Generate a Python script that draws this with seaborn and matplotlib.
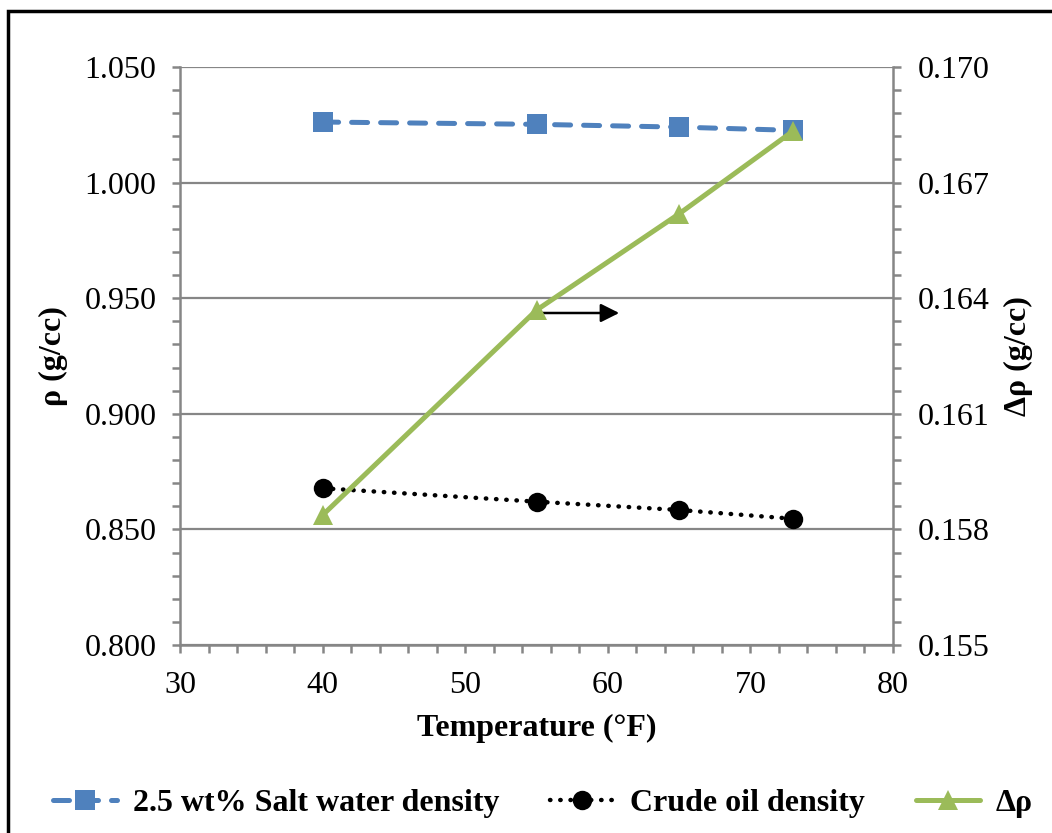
import numpy as np
import pandas as pd
import matplotlib
matplotlib.use("Agg")
import matplotlib.pyplot as plt
from matplotlib.patches import Rectangle
from matplotlib.ticker import MultipleLocator, FormatStrFormatter
import seaborn as sns

# data
temperature = [40, 55, 65, 73]
salt_water_density = [1.0262, 1.0252, 1.0240, 1.0226]
crude_oil_density = [0.8678, 0.8620, 0.8584, 0.8546]
delta_rho = [0.15837, 0.16369, 0.16619, 0.16834]

sns.set_theme(style="white")
plt.rcParams['font.family'] = ['Liberation Serif', 'DejaVu Serif']
plt.rcParams['text.color'] = 'black'
plt.rcParams['axes.labelcolor'] = 'black'

BLUE = "#4F81BD"
GREEN = "#9BBB59"
GREY = "#868686"
FS = 23

fig = plt.figure(figsize=(10.52, 8.33), dpi=100)
ax = fig.add_axes([180 / 1052, 1 - 645 / 833, (893 - 180) / 1052, (645 - 67) / 833])
ax2 = ax.twinx()

sns.lineplot(x=temperature, y=salt_water_density, ax=ax, color=BLUE,
             linestyle=(0, (3.2, 2.6)), linewidth=3.6, marker="s", markersize=14,
             markeredgewidth=0, dash_capstyle="round",
             label="2.5 wt% Salt water density")
sns.lineplot(x=temperature, y=crude_oil_density, ax=ax, color="black",
             linestyle=(0, (0.1, 2.2)), linewidth=3.2, marker="o", markersize=14,
             markeredgewidth=0, dash_capstyle="round",
             label="Crude oil density")
sns.lineplot(x=temperature, y=delta_rho, ax=ax2, color=GREEN,
             linewidth=3.6, marker="^", markersize=15, markeredgewidth=0,
             label="Δρ")

# axes ranges and ticks
ax.set_xlim(30, 80)
ax.set_ylim(0.800, 1.050)
ax.xaxis.set_major_locator(MultipleLocator(10))
ax.xaxis.set_minor_locator(MultipleLocator(2))
ax.yaxis.set_major_locator(MultipleLocator(0.05))
ax.yaxis.set_minor_locator(MultipleLocator(0.01))
ax.yaxis.set_major_formatter(FormatStrFormatter("%.3f"))
ax2.set_yticks(np.linspace(0.155, 0.170, 6))
ax2.set_yticks(np.linspace(0.155, 0.170, 26), minor=True)
ax2.yaxis.set_major_formatter(FormatStrFormatter("%.3f"))
ax2.set_ylim(0.155, 0.170)

ax.grid(axis="y", which="major", color=GREY, linewidth=1.6)
ax.grid(axis="x", visible=False)
ax2.grid(False)

for a in (ax, ax2):
    for side, sp in a.spines.items():
        sp.set_color(GREY)
        sp.set_linewidth(1.8)
    a.spines["top"].set_visible(False)
ax2.spines["left"].set_visible(False)
ax2.spines["bottom"].set_visible(False)
ax.spines["right"].set_visible(False)

ax.tick_params(axis="both", which="major", direction="out", length=6, width=1.8,
               color=GREY, labelsize=FS, labelcolor="black")
ax.tick_params(axis="both", which="minor", direction="out", length=6, width=1.8,
               color=GREY)
ax.tick_params(axis="y", which="both", left=True, pad=11)
ax.tick_params(axis="x", which="both", bottom=True, pad=13)
ax2.tick_params(axis="y", which="major", direction="out", length=6, width=1.8,
                color=GREY, labelsize=FS, labelcolor="black", right=True, pad=12)
ax2.tick_params(axis="y", which="minor", direction="out", length=6, width=1.8,
                color=GREY, right=True)

ax.set_xlabel("Temperature (°F)", fontsize=FS, fontweight="bold", labelpad=10, color="black")
ax.set_ylabel("ρ (g/cc)", fontsize=FS, fontweight="bold", labelpad=12, color="black")
ax2.set_ylabel("Δρ (g/cc)", fontsize=FS, fontweight="bold", labelpad=10, color="black")

# arrow pointing toward right axis
ax.annotate("", xy=(60.8, 0.9436), xytext=(55.2, 0.9436),
            arrowprops=dict(arrowstyle="-|>", color="black", lw=1.8,
                            mutation_scale=28, shrinkA=0, shrinkB=0))

# legend along the bottom
h1, l1 = ax.get_legend_handles_labels()
h2, l2 = ax2.get_legend_handles_labels()
if ax.get_legend():
    ax.get_legend().remove()
if ax2.get_legend():
    ax2.get_legend().remove()
leg = fig.legend(h1 + h2, l1 + l2, loc="center", bbox_to_anchor=(543 / 1052, 1 - 803 / 833),
                 ncol=3, frameon=False, handlelength=2.0, columnspacing=1.6,
                 handletextpad=0.5, borderpad=0, prop=dict(size=FS, weight="bold"))
for t in leg.get_texts():
    t.set_color("black")

# chart area border
fig.patches.append(Rectangle((8 / 1052, -0.05), 1.2, 1 - 11 / 833 + 0.05,
                             transform=fig.transFigure, fill=False,
                             edgecolor="black", linewidth=2.5))

fig.savefig("out.png", dpi=100)
